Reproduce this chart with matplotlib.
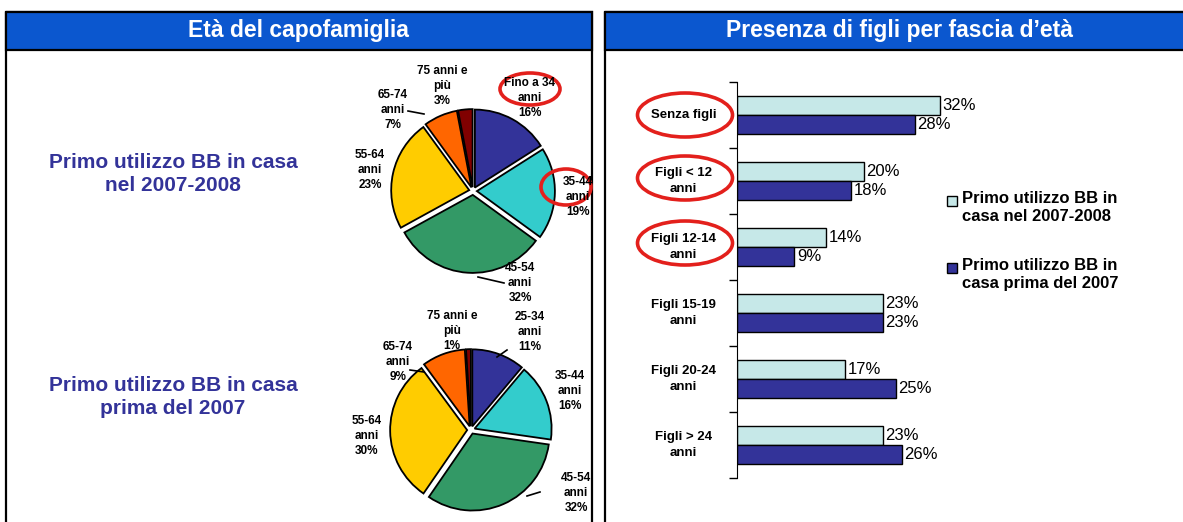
import matplotlib
matplotlib.use("Agg")
import matplotlib.pyplot as plt
from matplotlib.patches import Rectangle, Ellipse

plt.rcParams['font.family'] = ['Liberation Sans', 'DejaVu Sans']

W, H = 1183, 522

# --- data ---
pie_colors = ['#333399', '#33cccc', '#339966', '#ffcc00', '#ff6600', '#800000']

pie1_labels = ['Fino a 34\nanni', '35-44\nanni', '45-54\nanni', '55-64\nanni', '65-74\nanni', '75 anni e\npiù']
pie1_values = [16, 19, 32, 23, 7, 3]

pie2_labels = ['25-34\nanni', '35-44\nanni', '45-54\nanni', '55-64\nanni', '65-74\nanni', '75 anni e\npiù']
pie2_values = [11, 16, 32, 30, 9, 1]

bar_categories = ['Senza figli', 'Figli < 12\nanni', 'Figli 12-14\nanni',
                  'Figli 15-19\nanni', 'Figli 20-24\nanni', 'Figli > 24\nanni']
new_users = [32, 20, 14, 23, 17, 23]
old_users = [28, 18, 9, 23, 25, 26]
series_names = ['Primo utilizzo BB in\ncasa nel 2007-2008',
                'Primo utilizzo BB in\ncasa prima del 2007']
series_colors = ['#c6e8e8', '#333399']


def px_axes(x0, y0, x1, y1, **kw):
    return fig.add_axes([x0 / W, 1 - y1 / H, (x1 - x0) / W, (y1 - y0) / H], **kw)


fig = plt.figure(figsize=(W / 100, H / 100), dpi=100)

# background: panels and headers in pixel coords
bg = px_axes(0, 0, W, H, zorder=0)
bg.set_xlim(0, W)
bg.set_ylim(H, 0)
bg.axis('off')

header_blue = '#0b57cf'
for x0, x1, xc, title in [(6, 592, 298, 'Età del capofamiglia'),
                          (605, 1190, 900, 'Presenza di figli per fascia d\u2019età')]:
    bg.add_patch(Rectangle((x0, 12), x1 - x0, 520, fill=False, ec='black', lw=1.6))
    bg.add_patch(Rectangle((x0, 12), x1 - x0, 38, fc=header_blue, ec='black', lw=1.6))
    bg.text(xc, 31, title, color='white',
            fontsize=16.5, fontweight='bold', ha='center', va='center')

left_color = '#333399'
bg.text(173, 174, 'Primo utilizzo BB in casa\nnel 2007-2008', color=left_color,
        fontsize=15, fontweight='bold', ha='center', va='center', linespacing=1.28)
bg.text(173, 397, 'Primo utilizzo BB in casa\nprima del 2007', color=left_color,
        fontsize=15, fontweight='bold', ha='center', va='center', linespacing=1.28)


def draw_pie(cx, cy, r, values):
    span = 1.7
    ax = px_axes(cx - r * span, cy - r * span, cx + r * span, cy + r * span, zorder=1)
    ax.pie(values, colors=pie_colors, startangle=90, counterclock=False,
           explode=[0.05] * len(values),
           wedgeprops=dict(edgecolor='black', linewidth=1.3))
    ax.set_xlim(-span, span)
    ax.set_ylim(-span, span)
    ax.set_aspect('equal')
    ax.axis('off')
    return ax


draw_pie(473, 191, 78, pie1_values)
draw_pie(471, 430, 77, pie2_values)

# overlay for pie labels, leader lines and red marks
ov = px_axes(0, 0, W, H, zorder=5)
ov.set_xlim(0, W)
ov.set_ylim(H, 0)
ov.axis('off')
ov.patch.set_alpha(0)

pie1_pos = [(530, 98), (578, 197), (520, 283), (370, 170), (393, 110), (442, 86)]
pie2_pos = [(530, 332), (570, 391), (576, 493), (367, 436), (398, 362), (452, 331)]
for labels, values, pos in [(pie1_labels, pie1_values, pie1_pos),
                            (pie2_labels, pie2_values, pie2_pos)]:
    for lab, v, (x, y) in zip(labels, values, pos):
        ov.text(x, y, f'{lab}\n{v}%', fontsize=8.5, fontweight='bold',
                ha='center', va='center', linespacing=1.28)

for (xa, ya, xb, yb) in [(408, 111, 424, 114), (478, 277, 504, 283),
                         (410, 370, 424, 372), (497, 357, 507, 350),
                         (527, 496, 540, 492)]:
    ov.plot([xa, xb], [ya, yb], color='black', lw=1.2)

red = '#e3201c'
for (x, y, w, h) in [(530, 89, 60, 32), (566, 187, 50, 36),
                     (685, 115, 95, 44), (685, 178, 95, 44), (685, 243, 95, 44)]:
    ov.add_patch(Ellipse((x, y), w, h, fill=False, ec=red, lw=2.6))

# bar chart
ax = px_axes(737, 82, 1054, 478, zorder=1)
pos = range(len(bar_categories))
h = 0.288
b1 = ax.barh([p - h / 2 for p in pos], new_users, height=h, color=series_colors[0],
             edgecolor='black', linewidth=1)
b2 = ax.barh([p + h / 2 for p in pos], old_users, height=h, color=series_colors[1],
             edgecolor='black', linewidth=1)
for b in (b1, b2):
    ax.bar_label(b, fmt='%d%%', padding=2, fontsize=12)
ax.set_xlim(0, 50)
ax.set_ylim(len(bar_categories) - 0.5, -0.5)
ax.set_yticks([p - 0.5 for p in range(len(bar_categories) + 1)])
ax.set_yticklabels([])
ax.tick_params(axis='y', direction='out', length=6, width=1)
ax.set_xticks([])
for s in ['top', 'right', 'bottom']:
    ax.spines[s].set_visible(False)
ax.patch.set_alpha(0)
for p, cat in zip(pos, bar_categories):
    ax.text(-0.168, p, cat, transform=ax.get_yaxis_transform(), ha='center',
            va='center', fontsize=9.5, fontweight='bold', linespacing=1.45)

# legend
for i, (name, col) in enumerate(zip(series_names, series_colors)):
    y = 201 + 67 * i
    bg.add_patch(Rectangle((947, y - 5), 10, 10, fc=col, ec='black', lw=1))
    bg.text(962, y - 10, name, fontsize=12, fontweight='bold', ha='left', va='top',
            linespacing=1.22)

fig.savefig('out.png', dpi=100)
